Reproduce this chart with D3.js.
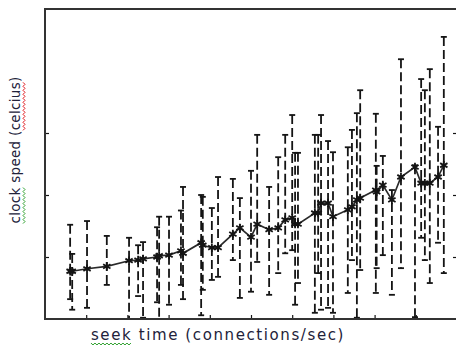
<!DOCTYPE html>
<html>
<head>
<meta charset="utf-8">
<script src="https://cdn.jsdelivr.net/npm/d3@7"></script>
<style>
  body { margin: 0; background: #fff; }
  svg { display: block; }
</style>
</head>
<body>
<svg id="chart" width="456" height="347"></svg>
<script>
// mean values and error bar ends
const xVals = [0.61, 0.66, 1.02, 1.50, 2.04, 2.26, 2.38, 2.72, 2.77, 3.01, 3.30, 3.35, 3.79, 3.83, 4.05, 4.20,
  4.56, 4.73, 5.00, 5.15, 5.44, 5.66, 5.83, 6.00, 6.07, 6.14, 6.55, 6.63, 6.70, 6.87, 6.99, 7.35,
  7.45, 7.57, 7.65, 8.03, 8.05, 8.20, 8.42, 8.64, 8.98, 9.13, 9.22, 9.34, 9.54, 9.68];
const yVals = [0.77, 0.77, 0.81, 0.85, 0.94, 0.95, 0.97, 1.00, 1.02, 1.03, 1.10, 1.06, 1.23, 1.19, 1.15, 1.15,
  1.37, 1.47, 1.32, 1.53, 1.44, 1.47, 1.60, 1.63, 1.53, 1.53, 1.71, 1.71, 1.87, 1.87, 1.65, 1.76,
  1.81, 1.92, 1.95, 2.08, 2.05, 2.16, 1.92, 2.29, 2.45, 2.19, 2.19, 2.19, 2.29, 2.48];
const yHigh = [1.52, 1.05, 1.58, 1.34, 1.31, 1.19, 1.24, 1.48, 1.65, 1.65, 1.75, 2.13, 2.00, 1.97, 1.79, 2.29,
  2.26, 1.95, 2.39, 2.97, 2.13, 2.61, 2.97, 3.29, 2.68, 2.68, 2.97, 2.97, 3.29, 2.87, 2.69, 2.77,
  3.05, 3.32, 3.69, 3.31, 2.47, 2.63, 2.08, 4.19, 2.48, 3.87, 3.69, 4.03, 3.10, 4.55];
const yLow = [0.32, 0.15, 0.18, 0.55, 0.00, 0.37, 0.02, 0.27, 0.00, 0.23, 0.55, 0.32, 0.06, 0.47, 0.63, 0.68,
  0.95, 0.34, 0.44, 0.92, 0.39, 0.74, 1.06, 1.11, 0.23, 0.58, 0.10, 0.74, 0.15, 0.18, 0.10, 0.42,
  0.95, 0.02, 0.79, 0.42, 0.82, 1.03, 0.39, 0.82, 0.03, 1.31, 0.95, 0.58, 1.23, 0.74];
const xTicks = [1, 2, 3, 4, 5, 6, 7, 8, 9];
const yTicks = [1, 2, 3];
const xLabel = "seek time (connections/sec)";
const yLabel = "clock speed (celcius)";

const data = xVals.map((x, i) => ({ x: x, y: yVals[i], hi: yHigh[i], lo: yLow[i] }));

const svg = d3.select("#chart");
const plotLeft = 45, plotTop = 9, plotWidth = 412, plotHeight = 310;
const ink = "#141414";

const x = d3.scaleLinear().domain([0, 10]).range([plotLeft, plotLeft + plotWidth]);
const y = d3.scaleLinear().domain([0, 5]).range([plotTop + plotHeight, plotTop]);

// ticks pointing inward
svg.append("g")
  .attr("transform", "translate(0," + (plotTop + plotHeight) + ")")
  .call(d3.axisBottom(x).tickValues(xTicks).tickSize(-4).tickFormat(""))
  .call(g => g.select(".domain").remove())
  .selectAll("line").attr("stroke", ink).attr("stroke-width", 1.2);

svg.append("g")
  .attr("transform", "translate(" + plotLeft + ",0)")
  .call(d3.axisLeft(y).tickValues(yTicks).tickSize(-4).tickFormat(""))
  .call(g => g.select(".domain").remove())
  .selectAll("line").attr("stroke", ink).attr("stroke-width", 1.2);

svg.append("g")
  .attr("transform", "translate(" + (plotLeft + plotWidth) + ",0)")
  .call(d3.axisRight(y).tickValues(yTicks).tickSize(-4).tickFormat(""))
  .call(g => g.select(".domain").remove())
  .selectAll("line").attr("stroke", ink).attr("stroke-width", 1.2);

// error bars
const bars = svg.append("g").attr("stroke", ink).attr("stroke-width", 1.8);
bars.selectAll(".bar")
  .data(data)
  .enter()
  .append("line")
    .attr("x1", d => x(d.x))
    .attr("x2", d => x(d.x))
    .attr("y1", d => y(d.hi))
    .attr("y2", d => y(d.lo))
    .attr("stroke-dasharray", "9,4");

bars.selectAll(".capTop")
  .data(data)
  .enter()
  .append("line")
    .attr("x1", d => x(d.x) - 3)
    .attr("x2", d => x(d.x) + 3)
    .attr("y1", d => y(d.hi))
    .attr("y2", d => y(d.hi));

bars.selectAll(".capBottom")
  .data(data)
  .enter()
  .append("line")
    .attr("x1", d => x(d.x) - 3)
    .attr("x2", d => x(d.x) + 3)
    .attr("y1", d => y(d.lo))
    .attr("y2", d => y(d.lo));

// mean line
const line = d3.line().x(d => x(d.x)).y(d => y(d.y));
svg.append("path")
  .datum(data)
  .attr("d", line)
  .attr("fill", "none")
  .attr("stroke", "#2a2a2a")
  .attr("stroke-width", 1.7);

// star markers
const star = d3.symbol().type(d3.symbolAsterisk).size(50);
svg.selectAll(".pt")
  .data(data)
  .enter()
  .append("path")
    .attr("d", star)
    .attr("transform", d => "translate(" + x(d.x) + "," + y(d.y) + ")")
    .attr("fill", "none")
    .attr("stroke", ink)
    .attr("stroke-width", 1.8);

// frame (right side runs off the image)
svg.append("rect")
  .attr("x", plotLeft)
  .attr("y", plotTop)
  .attr("width", plotWidth)
  .attr("height", plotHeight)
  .attr("fill", "none")
  .attr("stroke", "#333")
  .attr("stroke-width", 2);

// axis labels
const xl = svg.append("text")
  .attr("x", 218)
  .attr("y", 340)
  .attr("text-anchor", "middle")
  .style("font-family", "'DejaVu Sans', Verdana, sans-serif")
  .style("font-size", "15px")
  .style("letter-spacing", "1.6px")
  .attr("fill", "#22223a")
  .text(xLabel);

const yl = svg.append("text")
  .attr("transform", "translate(20,150) rotate(-90)")
  .attr("text-anchor", "middle")
  .style("font-family", "'DejaVu Sans', Verdana, sans-serif")
  .style("font-size", "13.5px")
  .style("letter-spacing", "0.3px")
  .attr("fill", "#22223a")
  .text(yLabel);

// spell-check squiggles under words
function squiggle(g, x0, x1, color) {
  const pts = [];
  for (let i = 0, px = x0; px <= x1; i++, px += 2) pts.push([px, i % 2 ? 2 : 0]);
  g.append("path")
    .attr("d", d3.line()(pts))
    .attr("fill", "none")
    .attr("stroke", color)
    .attr("stroke-width", 1);
}

const xNode = xl.node();
const xStart = xNode.getStartPositionOfChar(0).x;
const xSeekEnd = xNode.getEndPositionOfChar(3).x;
squiggle(svg.append("g").attr("transform", "translate(0,343)"), xStart, xSeekEnd, "#2ca02c");

const yNode = yl.node();
const yG = svg.append("g").attr("transform", "translate(20,150) rotate(-90) translate(0,3)");
const cStart = yNode.getStartPositionOfChar(0).x;
const cEnd = yNode.getEndPositionOfChar(4).x;
squiggle(yG, cStart, cEnd, "#2ca02c");
const pStart = yNode.getStartPositionOfChar(13).x;
const pEnd = yNode.getEndPositionOfChar(19).x;
squiggle(yG, pStart, pEnd, "#e0191f");
</script>
</body>
</html>
